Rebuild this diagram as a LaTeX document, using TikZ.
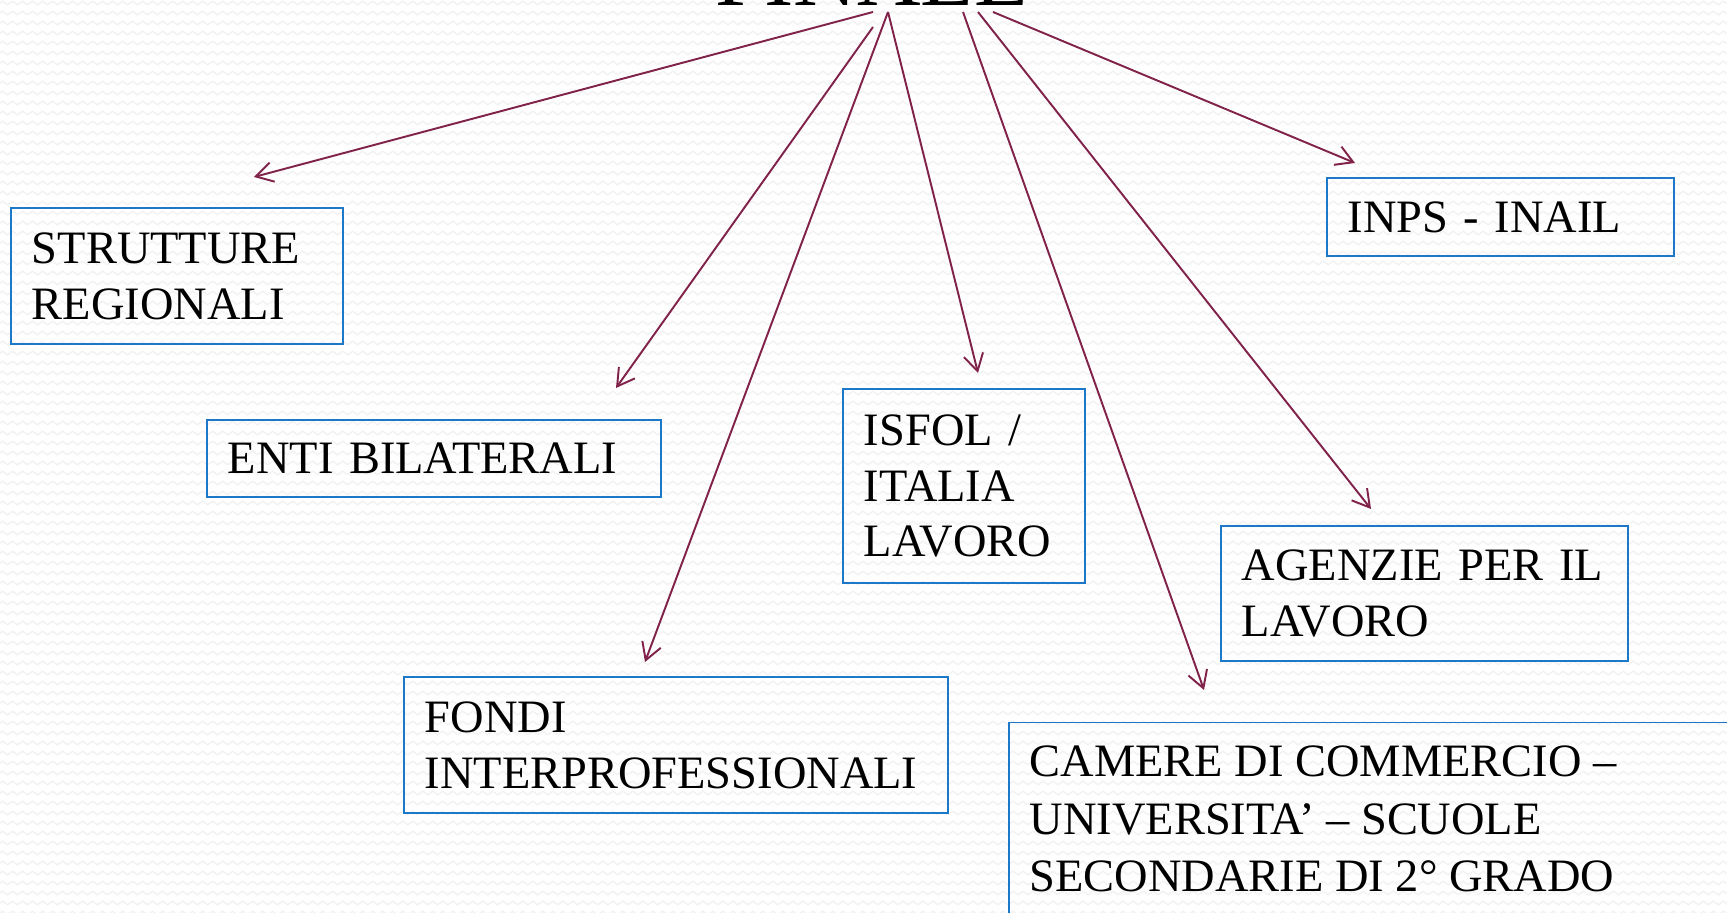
\documentclass[tikz,border=0pt]{standalone}
\usepackage{fontspec}
\setmainfont{Liberation Serif}
\usetikzlibrary{arrows.meta,decorations.pathmorphing}
\definecolor{boxblue}{RGB}{30,120,200}
\definecolor{arrowred}{RGB}{128,34,74}
\begin{document}
\begin{tikzpicture}[x=0.01cm,y=-0.01cm,
  box/.style={draw=boxblue, line width=0.55pt, rectangle, align=left,
    inner xsep=0.21cm, inner ysep=0pt, text=black,
    font=\fontsize{13.2pt}{15.9pt}\selectfont},
  link/.style={draw=arrowred, line width=0.55pt,
    -{Straight Barb[length=4.8pt,width=5.6pt,line width=0.55pt]}},
  bgz/.style={draw=black!5, line width=0.4pt, decorate,
    decoration={zigzag, segment length=2.845pt, amplitude=0.5pt}}]
\useasboundingbox (0,0) rectangle (1727,913);
\clip (0,0) rectangle (1727,913);
\fill[white] (0,0) rectangle (1727,913);
\foreach \r in {0,...,92} \draw[bgz] (-10,{\r*10+3}) -- (1740,{\r*10+3});

% title (cut off at the top)
\node[anchor=base, inner sep=0, font=\fontsize{25pt}{30pt}\selectfont] (title) at (872,6) {FINALE};

% boxes
\node[box, text width=2.90cm, minimum height=1.36cm] (strut) at (177,276) {STRUTTURE\\REGIONALI};
\node[box, text width=4.12cm, minimum height=0.77cm] (enti) at (434,458.5) {ENTI BILATERALI};
\node[box, text width=5.02cm, minimum height=1.36cm] (fondi) at (676,745) {FONDI\\INTERPROFESSIONALI};
\node[box, text width=2.00cm, minimum height=1.93cm] (isfol) at (964,486) {ISFOL /\\ITALIA\\LAVORO};
\node[box, text width=3.05cm, minimum height=0.78cm] (inps) at (1500.5,217) {INPS - INAIL};
\node[box, text width=3.65cm, minimum height=1.35cm] (agenzie) at (1424.5,593.5) {AGENZIE PER IL\\LAVORO};
\draw[boxblue, line width=0.55pt] (1009,722.5) rectangle (1800,1000);
\node[anchor=base west, inner sep=0, align=left, text=black,
  font=\fontsize{13.2pt}{16.4pt}\selectfont] (camere) at (1029,892)
  {CAMERE DI COMMERCIO –\\UNIVERSITA’ – SCUOLE\\SECONDARIE DI 2° GRADO};

% connector end points
\coordinate (s1) at (873,12);  \coordinate (e1) at (254,177);
\coordinate (s2) at (873,27);  \coordinate (e2) at (616,388);
\coordinate (s3) at (888,12);  \coordinate (e3) at (645,662);
\coordinate (s4) at (888,12);  \coordinate (e4) at (978,373);
\coordinate (s5) at (963,12);  \coordinate (e5) at (1204,690);
\coordinate (s6) at (978,12);  \coordinate (e6) at (1371,509);
\coordinate (s7) at (993,12);  \coordinate (e7) at (1355,163);

\draw[link] (s1) -- (e1);
\draw[link] (s2) -- (e2);
\draw[link] (s3) -- (e3);
\draw[link] (s4) -- (e4);
\draw[link] (s5) -- (e5);
\draw[link] (s6) -- (e6);
\draw[link] (s7) -- (e7);
\end{tikzpicture}
\end{document}
